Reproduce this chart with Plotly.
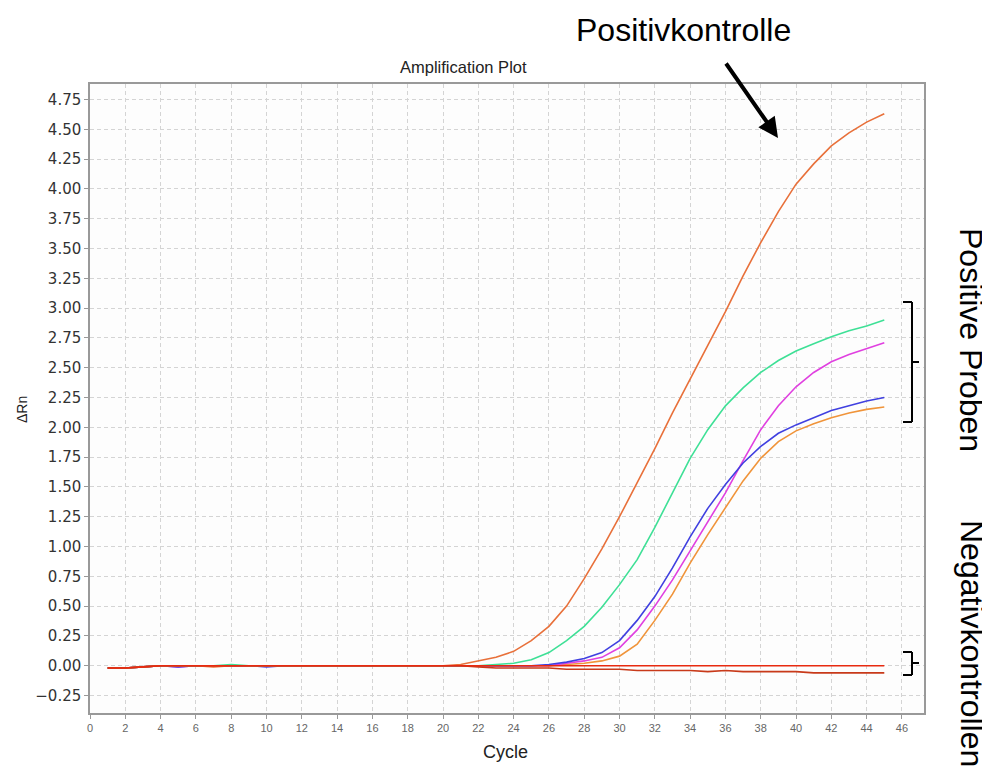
import plotly.graph_objects as go

# ---------------- data ----------------
cycles = list(range(1, 46))

positive_control = [-0.02, -0.02, -0.01, 0.00, 0.00, 0.00, -0.01, 0.00, 0.00, 0.00,
                    0.00, 0.00, 0.00, 0.00, 0.00, 0.00, 0.00, 0.00, 0.00, 0.00,
                    0.01, 0.04, 0.07, 0.12, 0.21, 0.33, 0.50, 0.73, 0.98, 1.25,
                    1.53, 1.82, 2.12, 2.40, 2.68, 2.97, 3.27, 3.55, 3.81, 4.04,
                    4.21, 4.36, 4.47, 4.56, 4.63]

sample_green = [-0.02, -0.02, -0.01, 0.00, 0.00, 0.00, 0.00, 0.01, 0.00, 0.00,
                0.00, 0.00, 0.00, 0.00, 0.00, 0.00, 0.00, 0.00, 0.00, 0.00,
                0.00, 0.00, 0.01, 0.02, 0.05, 0.11, 0.21, 0.33, 0.49, 0.68,
                0.89, 1.16, 1.45, 1.74, 1.98, 2.18, 2.33, 2.46, 2.56, 2.64,
                2.70, 2.76, 2.81, 2.85, 2.90]

sample_blue = [-0.02, -0.02, -0.01, 0.00, -0.01, 0.00, 0.00, 0.00, 0.00, -0.01,
               0.00, 0.00, 0.00, 0.00, 0.00, 0.00, 0.00, 0.00, 0.00, 0.00,
               0.00, 0.00, 0.00, 0.00, 0.00, 0.01, 0.03, 0.06, 0.11, 0.21,
               0.38, 0.58, 0.82, 1.08, 1.32, 1.52, 1.70, 1.84, 1.95, 2.02,
               2.08, 2.14, 2.18, 2.22, 2.25]

sample_magenta = [-0.02, -0.02, -0.01, 0.00, -0.01, 0.00, 0.00, 0.00, 0.00, 0.00,
                  0.00, 0.00, 0.00, 0.00, 0.00, 0.00, 0.00, 0.00, 0.00, 0.00,
                  0.00, 0.00, 0.00, 0.00, 0.00, 0.00, 0.02, 0.04, 0.07, 0.15,
                  0.30, 0.50, 0.72, 0.96, 1.20, 1.45, 1.72, 1.98, 2.18, 2.34,
                  2.46, 2.55, 2.61, 2.66, 2.71]

sample_orange = [-0.02, -0.02, -0.01, 0.00, 0.00, 0.00, 0.00, 0.00, 0.00, 0.00,
                 0.00, 0.00, 0.00, 0.00, 0.00, 0.00, 0.00, 0.00, 0.00, 0.00,
                 0.00, 0.00, 0.00, 0.00, 0.00, 0.00, 0.01, 0.02, 0.04, 0.08,
                 0.18, 0.38, 0.60, 0.86, 1.10, 1.33, 1.55, 1.74, 1.88, 1.97,
                 2.03, 2.08, 2.12, 2.15, 2.17]

negative_flat = [-0.02, -0.02, -0.01, 0.00, 0.00, 0.00, 0.00, 0.00, 0.00, 0.00,
                 0.00, 0.00, 0.00, 0.00, 0.00, 0.00, 0.00, 0.00, 0.00, 0.00,
                 0.00, 0.00, 0.00, 0.00, 0.00, 0.00, 0.00, 0.00, 0.00, 0.00,
                 0.00, 0.00, 0.00, 0.00, 0.00, 0.00, 0.00, 0.00, 0.00, 0.00,
                 0.00, 0.00, 0.00, 0.00, 0.00]

negative_drift = [-0.02, -0.02, -0.01, 0.00, 0.00, 0.00, 0.00, 0.00, 0.00, 0.00,
                  0.00, 0.00, 0.00, 0.00, 0.00, 0.00, 0.00, 0.00, 0.00, 0.00,
                  0.00, -0.01, -0.02, -0.02, -0.02, -0.02, -0.03, -0.03, -0.03, -0.03,
                  -0.04, -0.04, -0.04, -0.04, -0.05, -0.04, -0.05, -0.05, -0.05, -0.05,
                  -0.06, -0.06, -0.06, -0.06, -0.06]

x_ticks = list(range(0, 47, 2))
y_ticks = [-0.25, 0.00, 0.25, 0.50, 0.75, 1.00, 1.25, 1.50, 1.75, 2.00, 2.25,
           2.50, 2.75, 3.00, 3.25, 3.50, 3.75, 4.00, 4.25, 4.50, 4.75]

series = [
    ("Probe 4", sample_orange, "#F0943A"),
    ("Probe 3", sample_magenta, "#E040E0"),
    ("Probe 2", sample_blue, "#4040E0"),
    ("Probe 1", sample_green, "#3EE096"),
    ("Positivkontrolle", positive_control, "#E8703A"),
    ("Negativkontrolle 2", negative_drift, "#C83A1A"),
    ("Negativkontrolle 1", negative_flat, "#E82A10"),
]

# ---------------- figure ----------------
OFF = 8                      # page body margin
W, H = 990 - OFF, 771 - OFF
L, R, T, B = 90 - OFF, 924 - OFF, 84 - OFF, 713 - OFF   # plot area (figure px)

def px(x):   # x given in page pixels
    return (x - OFF - L) / (R - L)

def py(y):   # y given in page pixels
    return (B - (y - OFF)) / (B - T)

fig = go.Figure()
for name, vals, col in series:
    fig.add_trace(go.Scatter(x=cycles, y=vals, mode="lines", name=name,
                             line=dict(color=col, width=1.6), showlegend=False))

font = "Liberation Sans, Arial, sans-serif"

fig.update_layout(
    width=W, height=H,
    margin=dict(l=L, r=W - R, t=T, b=H - B),
    paper_bgcolor="white", plot_bgcolor="#fdfdfd",
    font=dict(family=font),
    showlegend=False,
)

fig.update_xaxes(range=[0, 47.25], tickvals=x_ticks, ticks="outside", ticklen=4,
                 tickcolor="#999", tickfont=dict(size=11, color="#666"),
                 showline=True, linecolor="#999", linewidth=1.5, mirror=True,
                 showgrid=True, gridcolor="#d4d4d4", griddash="4px,3px", gridwidth=1,
                 zeroline=False)
fig.update_yaxes(range=[-0.397, 4.88], tickvals=y_ticks, tickformat=".2f",
                 ticks="outside", ticklen=4, tickcolor="#999",
                 tickfont=dict(size=15, color="#333", family="DejaVu Sans, sans-serif"),
                 showline=True, linecolor="#999", linewidth=1.5, mirror=True,
                 showgrid=True, gridcolor="#d4d4d4", griddash="4px,3px", gridwidth=1,
                 zeroline=False)

def label(text, x, y, size, angle=0, color="black"):
    return dict(text=text, x=px(x), y=py(y), xref="paper", yref="paper",
                xanchor="center", yanchor="middle", showarrow=False,
                textangle=angle, font=dict(size=size, color=color))

ann = [
    label("Amplification Plot", 463, 67, 16.5, color="#222"),
    label("Cycle", 505, 752, 18, color="#222"),
    label("ΔRn", 22, 410, 14, angle=-90, color="#222"),
    label("Positivkontrolle", 683, 30, 32),
    label("Positive Proben", 971, 340, 32, angle=90),
    label("Negativkontrollen", 972, 643, 32, angle=90),
]
# arrow
ann.append(dict(text="", x=px(778), y=py(138), xref="paper", yref="paper",
                ax=725 - 778, ay=62 - 138, axref="pixel", ayref="pixel",
                showarrow=True, arrowhead=2, arrowsize=1, arrowwidth=4,
                arrowcolor="black"))
fig.update_layout(annotations=ann)

# brackets
def bracket(y0, y1, ym):
    xl, xr, xt = px(903), px(912), px(919)
    return [
        dict(type="line", xref="paper", yref="paper", x0=xl, x1=xr, y0=py(y0), y1=py(y0)),
        dict(type="line", xref="paper", yref="paper", x0=xr, x1=xr, y0=py(y0), y1=py(y1)),
        dict(type="line", xref="paper", yref="paper", x0=xl, x1=xr, y0=py(y1), y1=py(y1)),
        dict(type="line", xref="paper", yref="paper", x0=xr, x1=xt, y0=py(ym), y1=py(ym)),
    ]

shapes = bracket(302, 422, 362) + bracket(652, 675, 663)
for s in shapes:
    s["line"] = dict(color="black", width=2)
fig.update_layout(shapes=shapes)

fig.write_html("out.html")
